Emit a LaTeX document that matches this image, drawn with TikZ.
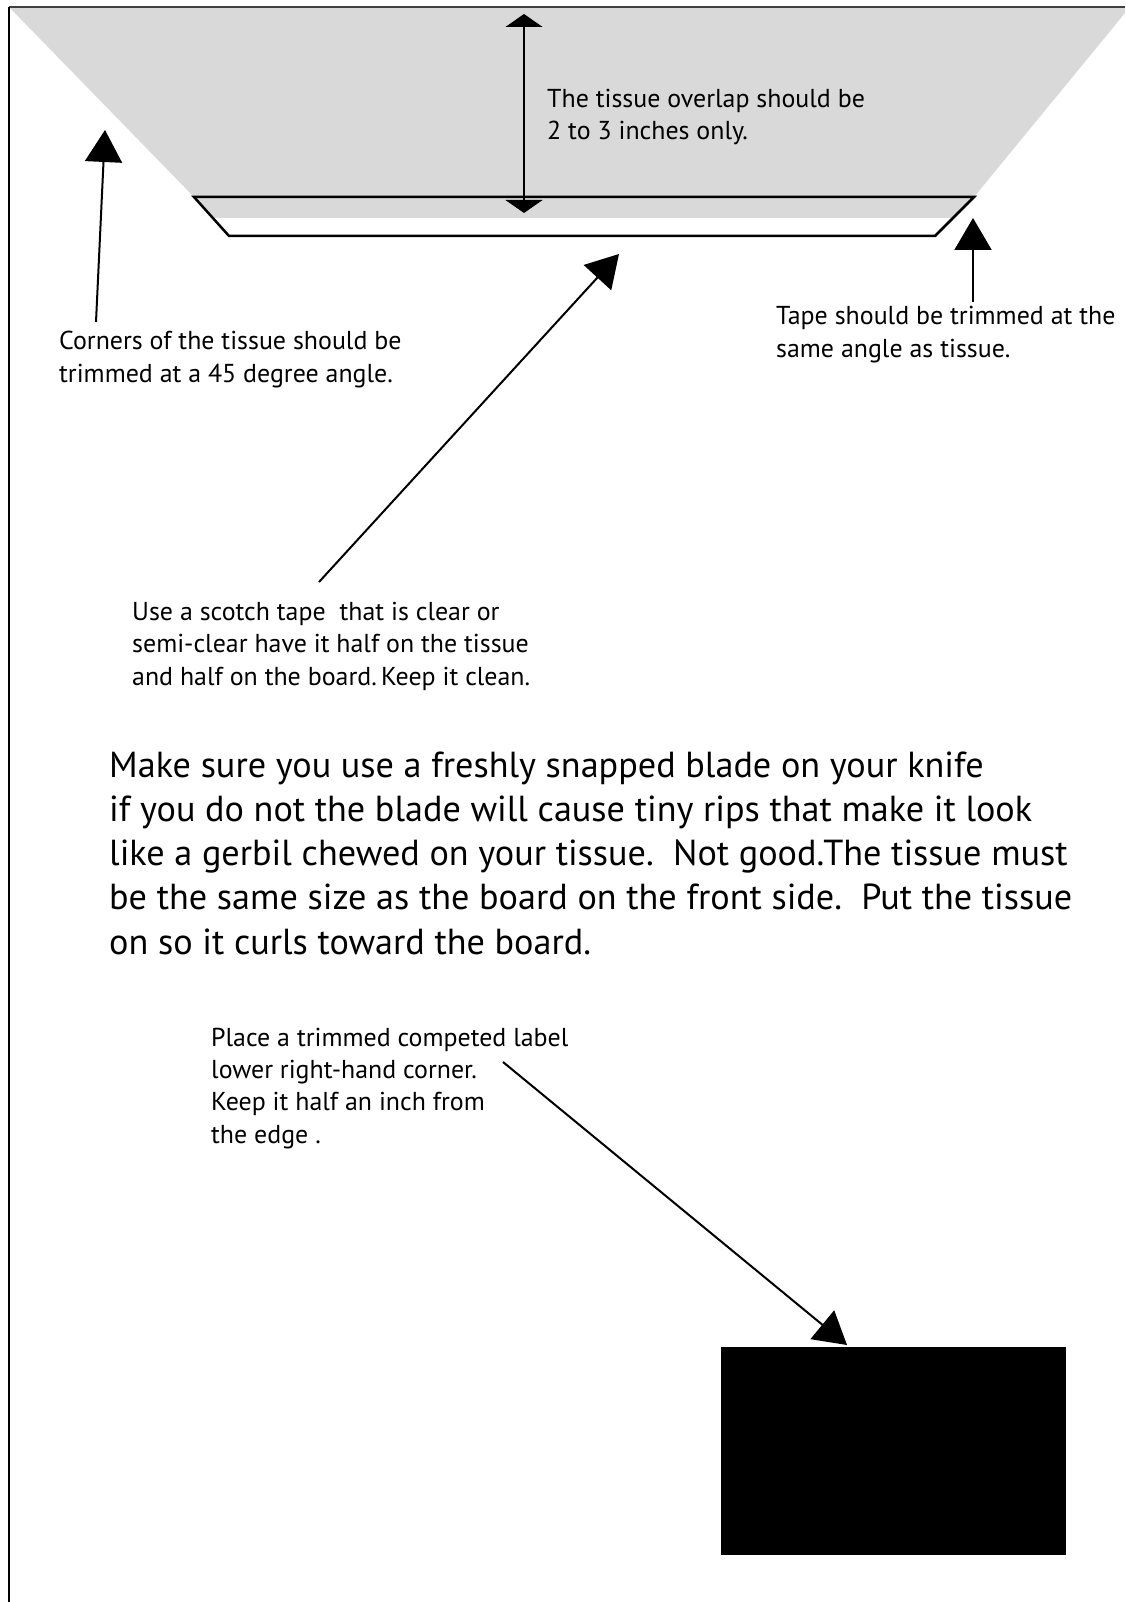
\documentclass[tikz,border=0pt]{standalone}
\usepackage{fontspec}
\setmainfont{PT Sans}
\usetikzlibrary{arrows.meta}
\definecolor{tissuegray}{HTML}{D9D9D9}
\begin{document}
\begin{tikzpicture}[x=1pt,y=-1pt,
  smalltext/.style={font=\fontsize{25.9}{32.3}\selectfont, align=left, anchor=base west, inner sep=0pt},
  bigtext/.style={font=\fontsize{36.2}{44.2}\selectfont, align=left, anchor=base west, inner sep=0pt},
  bigtip/.style={-{Triangle[length=32pt,width=37pt]}, line width=2pt},
  flattip/.style={{Triangle[length=13pt,width=37pt]}-{Triangle[length=13pt,width=37pt]}, line width=1.3pt},
]
\useasboundingbox (0,0) rectangle (1125,1602);
\fill[white] (0,0) rectangle (1125,1602);
% tissue
\fill[tissuegray] (10,8) -- (1125,8) -- (1125,13) -- (974,197) -- (953,218) -- (213,218) -- (194,197) -- cycle;
% frame
\draw[black!75, line width=2pt] (9,7) -- (1125,7);
\draw[black, line width=2pt] (9,7) -- (9,1602);
% tape
\draw[line width=2.5pt, line join=miter] (194,197) -- (974,197) -- (935,236) -- (229,236) -- cycle;
% label block
\node[fill=black, minimum width=345pt, minimum height=208pt, anchor=north west, inner sep=0pt] (lbl) at (721,1347) {};
% texts (anchored at the baseline of their last line)
\node[smalltext] (overlap) at (547,140) {The tissue overlap should be\\2 to 3 inches only.};
\node[smalltext] (corners) at (59,382) {Corners of the tissue should be\\trimmed at a 45 degree angle.};
\node[smalltext] (tapetrim) at (776,357) {Tape should be trimmed at the\\same angle as tissue.};
\node[smalltext] (scotch) at (132,685) {Use a scotch tape\ \ that is clear or\\semi-clear have it half on the tissue\\and half on the board.\,Keep it clean.};
\node[bigtext] (blade) at (109,954) {Make sure you use a freshly snapped blade on your knife\\if you do not the blade will cause tiny rips that make it look\\like a gerbil chewed on your tissue.\ \ Not good.The tissue must\\be the same size as the board on the front side.\ \ Put the tissue\\on so it curls toward the board.};
\node[smalltext] (place) at (211,1143) {Place a trimmed competed label\\lower right-hand corner.\\Keep it half an inch from\\the edge .};
% arrow end points
\coordinate (ovtop) at (524,14);
\coordinate (ovbot) at (524,213);
\coordinate (cornfrom) at (96,322);
\coordinate (cornto) at (105,130);
\coordinate (tapefrom) at (973,302);
\coordinate (tapeto) at (973,218);
\coordinate (scotchfrom) at (319,582);
\coordinate (scotchto) at (619,254);
\coordinate (placefrom) at (503,1062);
\coordinate (placeto) at (847,1345);
% connectors
\draw[flattip] (ovtop) -- (ovbot);
\draw[bigtip] (cornfrom) -- (cornto);
\draw[bigtip] (tapefrom) -- (tapeto);
\draw[bigtip] (scotchfrom) -- (scotchto);
\draw[bigtip] (placefrom) -- (placeto);
\end{tikzpicture}
\end{document}
